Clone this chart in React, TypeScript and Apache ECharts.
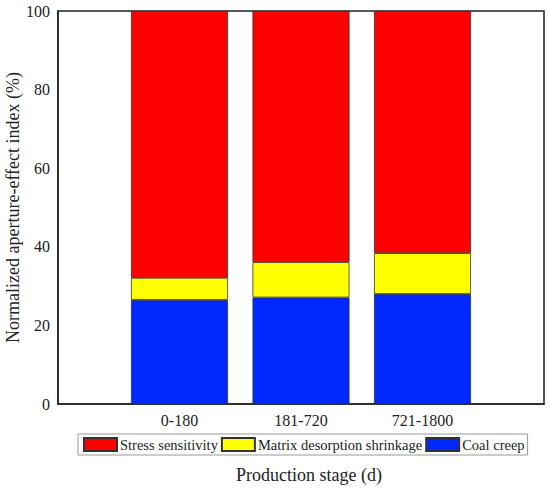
import React, { useEffect, useRef } from "react";
import * as echarts from "echarts";

const stages = ["0-180", "181-720", "721-1800"];
const coalCreep = [26.5, 27.1, 28.0];
const matrixShrinkage = [5.6, 9.0, 10.4];
const stressSensitivity = [67.9, 63.9, 61.6];
const yTicks = { min: 0, max: 100, interval: 20 };

const FONT = "'Liberation Serif', 'Times New Roman', Tinos, 'DejaVu Serif', serif";

export default function App() {
  const ref = useRef<HTMLDivElement>(null);
  useEffect(() => {
    if (!ref.current) return;
    const chart = echarts.init(ref.current, null, { renderer: "svg" });
    const categories = [" ", ...stages, "  "];
    const pad = (arr: number[]) => ["-", ...arr, "-"];
    const barStyle = (color: string) => ({
      color,
      borderColor: "#333",
      borderWidth: 0.8,
    });
    chart.setOption({
      animation: false,
      textStyle: { fontFamily: FONT },
      grid: {
        left: 58,
        top: 11,
        right: 6,
        bottom: 85,
        containLabel: false,
        outerBoundsMode: "none",
        show: true,
        borderColor: "#222",
        borderWidth: 1.5,
        backgroundColor: "transparent",
      },
      legend: {
        data: ["Stress sensitivity", "Matrix desorption shrinkage", "Coal creep"],
        left: 78,
        top: 434,
        orient: "horizontal",
        itemWidth: 33,
        itemHeight: 13,
        itemGap: 3,
        padding: [3, 3, 3, 5],
        borderColor: "#999",
        borderWidth: 1,
        icon: "rect",
        textStyle: { fontFamily: FONT, fontSize: 14.5, color: "#222", padding: [0, 0, 0, -2] },
      },
      xAxis: {
        type: "category",
        data: categories,
        boundaryGap: false,
        axisLine: { show: true, lineStyle: { color: "#222", width: 1.5 } },
        axisTick: { show: false },
        axisLabel: { fontFamily: FONT, fontSize: 16, color: "#222", margin: 8 },
        name: "Production stage (d)",
        nameLocation: "middle",
        nameGap: 62,
        nameMoveOverlap: false,
        nameTextStyle: { fontFamily: FONT, fontSize: 18, color: "#222", padding: [0, 0, 0, 16] },
        splitLine: { show: false },
      },
      yAxis: {
        type: "value",
        min: yTicks.min,
        max: yTicks.max,
        interval: yTicks.interval,
        axisLine: { show: true, lineStyle: { color: "#222", width: 1.5 } },
        axisTick: { show: false },
        splitLine: { show: false },
        axisLabel: { fontFamily: FONT, fontSize: 16, color: "#222", margin: 8 },
        name: "Normalized aperture-effect index (%)",
        nameLocation: "middle",
        nameGap: 36,
        nameMoveOverlap: false,
        nameTextStyle: { fontFamily: FONT, fontSize: 18, color: "#222" },
      },
      series: [
        {
          name: "Coal creep",
          type: "bar",
          stack: "total",
          barWidth: 97,
          data: pad(coalCreep),
          itemStyle: barStyle("#0028ff"),
        },
        {
          name: "Matrix desorption shrinkage",
          type: "bar",
          stack: "total",
          barWidth: 97,
          data: pad(matrixShrinkage),
          itemStyle: barStyle("#ffff00"),
        },
        {
          name: "Stress sensitivity",
          type: "bar",
          stack: "total",
          barWidth: 97,
          data: pad(stressSensitivity),
          itemStyle: barStyle("#ff0000"),
        },
      ],
    });
    return () => chart.dispose();
  }, []);
  return (
    <div
      ref={ref}
      style={{ position: "fixed", left: 0, top: 0, width: 550, height: 489, background: "#fff" }}
    />
  );
}
